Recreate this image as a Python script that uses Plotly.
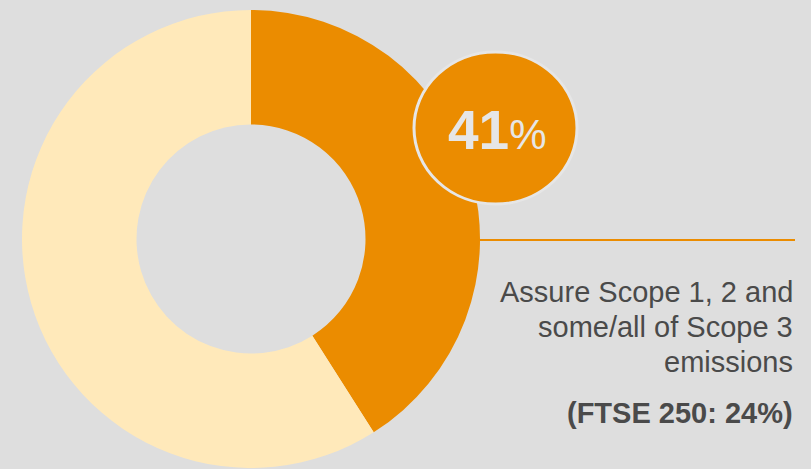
import plotly.graph_objects as go

W, H = 811, 469

labels = ["Assure Scope 1, 2 and some/all of Scope 3", "Other"]
values = [41, 59]
colors = ["#EB8C00", "#FFE9BA"]
big_value = "41"
desc_lines = ["Assure Scope 1, 2 and", "some/all of Scope 3", "emissions"]
bench = "(FTSE 250: 24%)"

FONT = "Liberation Sans"

def px(x):
    return x / W

def py(y):
    return (H - y) / H

fig = go.Figure()
fig.add_trace(go.Pie(
    labels=labels, values=values, hole=0.5, sort=False, direction="clockwise",
    rotation=0, marker=dict(colors=colors, line=dict(width=0)),
    textinfo="none", hoverinfo="label+percent", showlegend=False,
    domain=dict(x=[px(22), px(480)], y=[py(468), py(10)])
))

# connector line
fig.add_shape(type="line", xref="paper", yref="paper",
              x0=px(480), x1=px(795), y0=py(240), y1=py(240),
              line=dict(color="#EB8C00", width=2))
# badge circle
fig.add_shape(type="circle", xref="paper", yref="paper",
              x0=px(414), x1=px(577), y0=py(204), y1=py(52),
              fillcolor="#EB8C00", line=dict(color="#E6E6E6", width=3))

fig.add_annotation(xref="paper", yref="paper", x=px(497), y=py(130),
                   xanchor="center", yanchor="middle", showarrow=False,
                   text=f"<b>{big_value}</b><span style='font-size:42px'>%</span>",
                   font=dict(family=FONT, size=55, color="#E6E6E6"))

baselines = [302, 337, 372]
for line, b in zip(desc_lines, baselines):
    fig.add_annotation(xref="paper", yref="paper", x=px(795), y=py(b - 10),
                       xanchor="right", yanchor="middle", align="right", showarrow=False,
                       text=line,
                       font=dict(family=FONT, size=29, color="#4A4A4A"))

fig.add_annotation(xref="paper", yref="paper", x=px(795), y=py(413),
                   xanchor="right", yanchor="middle", align="right", showarrow=False,
                   text=f"<b>{bench}</b>",
                   font=dict(family=FONT, size=29, color="#4A4A4A"))

fig.update_layout(width=W, height=H, margin=dict(l=0, r=0, t=0, b=0),
                  paper_bgcolor="#DEDEDE", plot_bgcolor="#DEDEDE")
fig.write_html("out.html")
